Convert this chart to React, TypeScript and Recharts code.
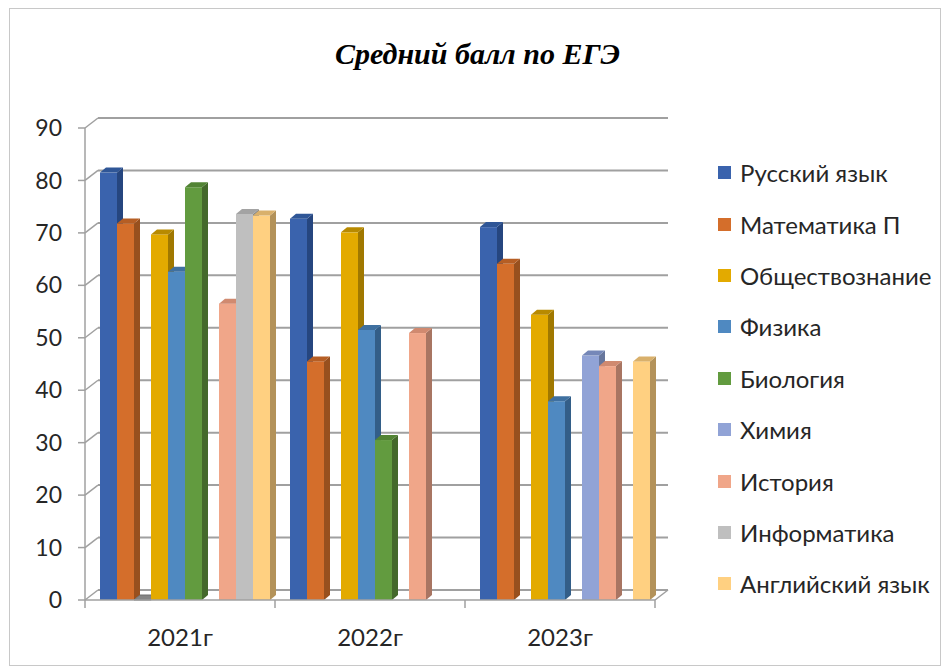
import React from 'react';
import { BarChart, Bar, XAxis, YAxis, CartesianGrid, Legend } from 'recharts';

const years = ['2021г', '2022г', '2023г'];
const russian = [81.5, 72.7, 71.1];
const math = [71.8, 45.5, 64.1];
const other = [0, null, null];
const social = [69.7, 70.1, 54.4];
const physics = [62.6, 51.5, 37.9];
const biology = [78.7, 30.5, null];
const chemistry = [null, null, 46.6];
const history = [56.5, 50.9, 44.6];
const informatics = [73.6, null, null];
const english = [73.3, null, 45.5];
const yTicks = [0, 10, 20, 30, 40, 50, 60, 70, 80, 90];

const series = [
  { key: 'russian', name: 'Русский язык', values: russian, front: '#3A63AD', side: '#26467F', top: '#2F5697', legend: true },
  { key: 'math', name: 'Математика П', values: math, front: '#D46E2B', side: '#98501E', top: '#B65E24', legend: true },
  { key: 'other', name: 'other', values: other, front: '#8C8C8C', side: '#6E6E6E', top: '#858585', legend: false },
  { key: 'social', name: 'Обществознание', values: social, front: '#E3AA00', side: '#A07800', top: '#B88A00', legend: true },
  { key: 'physics', name: 'Физика', values: physics, front: '#4F89C1', side: '#335E88', top: '#3F70A0', legend: true },
  { key: 'biology', name: 'Биология', values: biology, front: '#629B3F', side: '#44692B', top: '#528434', legend: true },
  { key: 'chemistry', name: 'Химия', values: chemistry, front: '#91A3D6', side: '#67769C', top: '#7587B8', legend: true },
  { key: 'history', name: 'История', values: history, front: '#F0A689', side: '#A87562', top: '#D08A70', legend: true },
  { key: 'informatics', name: 'Информатика', values: informatics, front: '#BFBFBF', side: '#8A8A8A', top: '#A3A3A3', legend: true },
  { key: 'english', name: 'Английский язык', values: english, front: '#FFD081', side: '#B3925A', top: '#D9B06B', legend: true },
];

const data = years.map((year, i) => {
  const row: any = { year };
  series.forEach((s) => { row[s.key] = s.values[i]; });
  return row;
});

const W = 947;
const H = 672;
const MARGIN = { top: 128, right: 292, bottom: 22, left: 25 };
const Y_AXIS_W = 60;
const X_AXIS_H = 50;
const PLOT_W = W - MARGIN.left - MARGIN.right - Y_AXIS_W;
const BAND_W = PLOT_W / years.length;
const WALL_DX = 13;
const WALL_DY = -10;
const BAR_DX = 6;
const BAR_DY = -5;
const BAR_SHIFT = 3.5;
const X_TICK_SIZE = 8;
const X_TICK_MARGIN = 21;
const GRID = '#A0A0A0';
const FONT = 'Lato, "Open Sans", sans-serif';
const TEXT = '#262626';

const makeShape = (s: any) => (props: any) => {
  const v = props.payload ? props.payload[s.key] : null;
  if (v === null || v === undefined) return <g />;
  const x = props.x + BAR_SHIFT;
  const h = Math.max(0, props.height || 0);
  const y = props.y;
  const w = props.width;
  const topPts = `${x},${y} ${x + BAR_DX},${y + BAR_DY} ${x + w + BAR_DX},${y + BAR_DY} ${x + w},${y}`;
  const sidePts = `${x + w},${y} ${x + w + BAR_DX},${y + BAR_DY} ${x + w + BAR_DX},${y + h + BAR_DY} ${x + w},${y + h}`;
  return (
    <g>
      {h > 0 && <polygon points={sidePts} fill={s.side} />}
      {h > 0 && <rect x={x} y={y} width={w} height={h} fill={s.front} />}
      <polygon points={topPts} fill={s.top} stroke={h > 0 ? 'none' : s.side} strokeWidth={1} />
    </g>
  );
};

const gridLine = (p: any) => {
  const { x1, y1, x2, y2 } = p;
  const bottom = (p.y ?? 0) + (p.height ?? 0);
  const isFloor = Math.abs(y1 - bottom) < 0.5;
  return (
    <g key={p.key ?? `g-${y1}`}>
      <line x1={x1} y1={y1} x2={x1 + WALL_DX} y2={y1 + WALL_DY} stroke={GRID} strokeWidth={1.5} />
      <line x1={x1 + WALL_DX} y1={y1 + WALL_DY} x2={x2 + WALL_DX} y2={y2 + WALL_DY} stroke={GRID} strokeWidth={2} />
      {isFloor && <line x1={x2} y1={y2} x2={x2 + WALL_DX} y2={y2 + WALL_DY} stroke={GRID} strokeWidth={1.5} />}
    </g>
  );
};

const XTick = (props: any) => {
  const { x, y, payload, index } = props;
  const axisY = y - X_TICK_SIZE - X_TICK_MARGIN;
  const left = x - BAND_W / 2;
  const right = x + BAND_W / 2;
  return (
    <g>
      <line x1={left} y1={axisY} x2={left} y2={axisY + X_TICK_SIZE} stroke={GRID} strokeWidth={1.5} />
      {index === years.length - 1 && (
        <line x1={right} y1={axisY} x2={right} y2={axisY + X_TICK_SIZE} stroke={GRID} strokeWidth={1.5} />
      )}
      <text x={x} y={y} dy="0.71em" textAnchor="middle" fontSize={24} fontFamily={FONT} fill={TEXT}>
        {payload.value}
      </text>
    </g>
  );
};

const LegendContent = () => {
  const items = series.filter((s) => s.legend);
  return (
    <div>
      {items.map((s) => (
        <div key={s.key} style={{ height: 51.4, display: 'flex', alignItems: 'center' }}>
          <span style={{ display: 'inline-block', width: 13, height: 13, background: s.front, marginRight: 9 }} />
          <span style={{ fontFamily: FONT, fontSize: 24, color: TEXT, whiteSpace: 'nowrap' }}>{s.name}</span>
        </div>
      ))}
    </div>
  );
};

export default function App() {
  return (
    <div style={{ position: 'absolute', left: 0, top: 0, width: W, height: H, background: '#fff' }}>
      <div style={{ position: 'absolute', left: 9, top: 8, width: 930, height: 656, border: '1px solid #C8C8C8' }} />
      <div
        style={{
          position: 'absolute', left: 0, top: 38, width: 955, textAlign: 'center',
          fontFamily: '"Liberation Serif", "Times New Roman", serif', fontWeight: 'bold', fontStyle: 'italic',
          fontSize: 30, lineHeight: '32px', color: '#000',
        }}
      >
        Средний балл по ЕГЭ
      </div>
      <div style={{ position: 'absolute', left: 0, top: 0 }}>
        <BarChart width={W} height={H} data={data} margin={MARGIN} barCategoryGap={11.5} barGap={0}>
          <CartesianGrid horizontal={gridLine} vertical={false} />
          <XAxis
            dataKey="year"
            height={X_AXIS_H}
            tick={<XTick />}
            tickLine={false}
            tickSize={X_TICK_SIZE}
            tickMargin={X_TICK_MARGIN}
            axisLine={{ stroke: GRID, strokeWidth: 1.5 }}
            interval={0}
          />
          <YAxis
            width={Y_AXIS_W}
            domain={[0, 90]}
            ticks={yTicks}
            interval={0}
            tickSize={7}
            tickMargin={16}
            tick={{ fontSize: 23, fontFamily: FONT, fill: TEXT }}
            tickLine={{ stroke: GRID, strokeWidth: 1.5 }}
            axisLine={{ stroke: GRID, strokeWidth: 1.5 }}
          />
          <Legend
            layout="vertical"
            align="center"
            verticalAlign="middle"
            wrapperStyle={{ left: 718, top: 147, width: 229 }}
            content={<LegendContent />}
          />
          {series.map((s) => (
            <Bar
              key={s.key}
              dataKey={s.key}
              name={s.name}
              fill={s.front}
              legendType={s.legend ? 'square' : 'none'}
              shape={makeShape(s)}
              isAnimationActive={false}
            />
          ))}
        </BarChart>
      </div>
    </div>
  );
}
